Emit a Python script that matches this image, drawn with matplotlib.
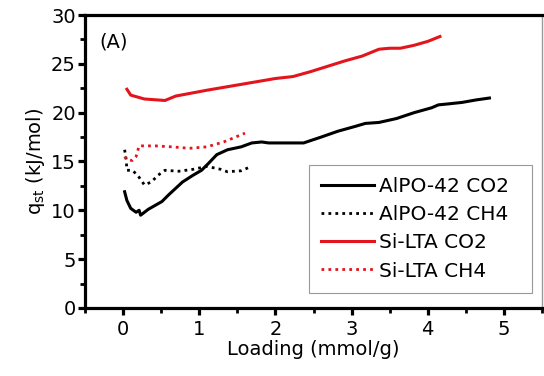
import matplotlib
matplotlib.use("Agg")
import matplotlib.pyplot as plt
from matplotlib.ticker import MultipleLocator

plt.rcParams['font.family'] = ['DejaVu Sans']
plt.rcParams['mathtext.fontset'] = 'dejavusans'

alpo_co2_x = [0.02, 0.05, 0.10, 0.17, 0.21, 0.23, 0.33, 0.42, 0.51, 0.60, 0.78, 0.92, 1.03, 1.12, 1.23, 1.37,
              1.55, 1.69, 1.82, 1.91, 2.14, 2.37, 2.60, 2.82, 3.05, 3.18, 3.36, 3.59, 3.82, 4.05, 4.14, 4.27,
              4.45, 4.63, 4.81]
alpo_co2_y = [11.9, 11.0, 10.2, 9.8, 10.0, 9.5, 10.1, 10.5, 10.9, 11.6, 12.9, 13.6, 14.1, 14.8, 15.7, 16.2,
              16.5, 16.9, 17.0, 16.9, 16.9, 16.9, 17.5, 18.1, 18.6, 18.9, 19.0, 19.4, 20.0, 20.5, 20.8, 20.9,
              21.05, 21.3, 21.5]

alpo_ch4_x = [0.02, 0.04, 0.05, 0.12, 0.19, 0.28, 0.37, 0.46, 0.55, 0.73, 0.92, 1.10, 1.28, 1.37, 1.55, 1.64]
alpo_ch4_y = [16.2, 15.2, 14.1, 14.1, 13.6, 12.6, 12.9, 13.6, 14.1, 14.0, 14.2, 14.5, 14.2, 13.95, 14.05, 14.35]

silta_co2_x = [0.05, 0.10, 0.28, 0.55, 0.69, 1.10, 1.55, 2.00, 2.23, 2.46, 2.91, 3.14, 3.36, 3.50, 3.64,
               3.82, 4.00, 4.16]
silta_co2_y = [22.4, 21.8, 21.4, 21.25, 21.7, 22.3, 22.9, 23.5, 23.7, 24.2, 25.3, 25.8, 26.5, 26.6, 26.6,
               26.9, 27.3, 27.8]

silta_ch4_x = [0.02, 0.05, 0.12, 0.17, 0.21, 0.42, 0.64, 0.87, 1.10, 1.32, 1.60]
silta_ch4_y = [15.5, 15.2, 15.1, 15.5, 16.6, 16.6, 16.5, 16.35, 16.5, 17.0, 17.9]

labels = ['AlPO-42 CO2', 'AlPO-42 CH4', 'Si-LTA CO2', 'Si-LTA CH4']

fig = plt.figure(figsize=(5.44, 3.76), dpi=100)
ax = fig.add_axes([0.1563, 0.181, 0.840, 0.779])

red = '#e3141b'
ax.plot(alpo_co2_x, alpo_co2_y, color='black', lw=2.2, label=labels[0])
ax.plot(alpo_ch4_x, alpo_ch4_y, color='black', lw=2.0, ls=(0, (1, 1.5)), label=labels[1])
ax.plot(silta_co2_x, silta_co2_y, color=red, lw=2.2, label=labels[2])
ax.plot(silta_ch4_x, silta_ch4_y, color=red, lw=2.0, ls=(0, (1, 1.5)), label=labels[3])

ax.set_xlim(-0.5, 5.5)
ax.set_ylim(0, 30)
ax.xaxis.set_major_locator(MultipleLocator(1))
ax.xaxis.set_minor_locator(MultipleLocator(0.5))
ax.yaxis.set_major_locator(MultipleLocator(5))
ax.yaxis.set_minor_locator(MultipleLocator(2.5))
for s in ax.spines.values():
    s.set_linewidth(2.3)
ax.spines['right'].set_linewidth(1.0)
ax.spines['right'].set_color('#999999')
ax.tick_params(which='major', direction='out', length=5, width=2.3, labelsize=14)
ax.tick_params(which='minor', direction='out', length=3.5, width=2.0)
ax.tick_params(axis='x', which='major', pad=3.5)
ax.tick_params(axis='y', which='major', pad=1.5)
ax.tick_params(top=False, right=False)

ax.set_xlabel('Loading (mmol/g)', fontsize=14, labelpad=1)
ax.set_ylabel(r'q$_{\mathregular{st}}$ (kJ/mol)', fontsize=14, labelpad=3)
ax.text(-0.13, 27.2, '(A)', fontsize=14, ha='center', va='center')

leg = ax.legend(loc='lower left', bbox_to_anchor=(0.49, 0.051, 0.488, 0.44), mode='expand',
                borderaxespad=0, fontsize=14.5, frameon=True,
                fancybox=False, edgecolor='#808080', handlelength=2.6, handletextpad=0.25,
                labelspacing=0.45, borderpad=0.62)
leg.get_frame().set_linewidth(0.8)

fig.savefig('out.png', dpi=100)
